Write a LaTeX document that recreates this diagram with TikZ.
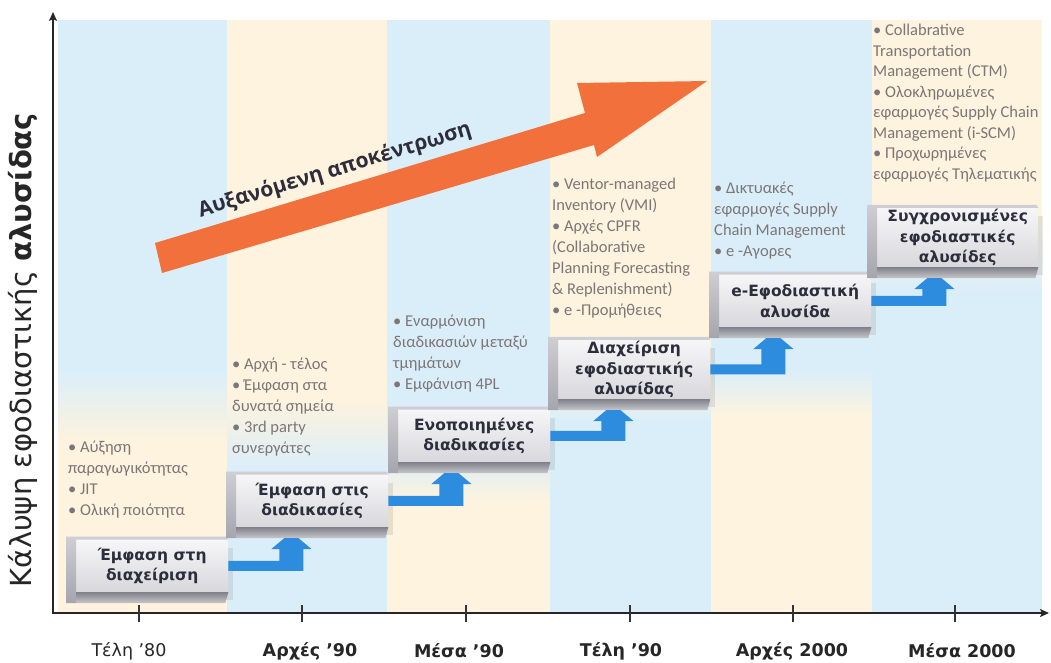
\documentclass[tikz,border=0pt]{standalone}
\usepackage{fontspec}
\setmainfont{DejaVu Sans}
\newfontfamily\notefont{Carlito}
\newfontfamily\trendfont{Open Sans}
\usetikzlibrary{calc,shadows,arrows.meta}
\definecolor{skyband}{RGB}{218,238,250}
\definecolor{sandband}{RGB}{253,243,222}
\definecolor{trend}{RGB}{242,112,60}
\definecolor{stepblue}{RGB}{45,140,222}
\definecolor{notegray}{RGB}{125,118,118}
\definecolor{boxtext}{RGB}{45,45,60}
\definecolor{boxfront}{RGB}{226,226,231}
\definecolor{boxtopface}{RGB}{206,206,212}
\definecolor{boxside}{RGB}{165,165,174}
\definecolor{boxbase}{RGB}{128,128,138}
\tikzset{>={Stealth[length=9pt,width=8pt,inset=2pt]}}
\tikzset{
  stepbox/.style = {rectangle, anchor=south west, minimum width=152pt, minimum height=52pt,
    inner sep=1pt, align=center, top color=white!70!boxfront, bottom color=boxfront!90!gray,
    text=boxtext, font=\fontsize{15.5}{20.5}\bfseries\selectfont,
    drop shadow={shadow xshift=5pt, shadow yshift=-8pt, opacity=0.18}},
  note/.style = {anchor=north west, inner sep=0pt, align=left, text=notegray,
    font=\notefont\fontsize{16.5}{21}\selectfont},
  era/.style = {text=black!85, font=\fontsize{17.5}{20}\selectfont},
  boldera/.style = {text=black!85, font=\fontsize{17.5}{20}\bfseries\selectfont},
  axisline/.style = {line width=2.2pt, black!85},
  tickmark/.style = {line width=1.3pt, black!80},
  trendtext/.style = {text=boxtext, font=\trendfont\fontsize{21}{24}\bfseries\selectfont}
}
\newcommand\boxfaces[1]{%
  \fill[boxtopface] (#1.north west) -- (#1.north east) -- ++(-2,-3) -- ([shift={(-10,-3)}]#1.north west) -- cycle;
  \shade[top color=boxside!55!white, bottom color=boxside] (#1.north west) -- ([shift={(-10,-3)}]#1.north west)
    -- ([shift={(-10,11)}]#1.south west) -- ([shift={(0,11)}]#1.south west) -- cycle;
  \shade[top color=boxbase, bottom color=boxbase!45!white] (#1.south west) -- (#1.south east)
    -- ([shift={(-3,11)}]#1.south east) -- ([shift={(0,11)}]#1.south west) -- cycle;
}
\newcommand\stepup[2]{%
  \fill[stepblue] let \p1=(#1.east), \p2=(#2.south) in
    (\x1,\y1-5pt) -- (\x1+75pt,\y1-5pt) -- (\x1+75pt,\y2-22pt) -- (\x1+83pt,\y2-22pt)
    -- (\x1+70pt,\y2-11pt) -- (\x1+56pt,\y2-11pt) -- (\x1+43pt,\y2-22pt) -- (\x1+51pt,\y2-22pt)
    -- (\x1+51pt,\y1+5pt) -- (\x1,\y1+5pt) -- cycle;
}

\begin{document}
\begin{tikzpicture}[x=1pt,y=-1pt]
  \useasboundingbox (0,0) rectangle (1051,662);
  \fill[white] (0,0) rectangle (1051,662);
  \foreach \xa/\xb/\topc/\botc/\ya/\yb in {58/227/skyband/sandband/370/440, 227/387/sandband/skyband/400/470,
      387/550/skyband/sandband/455/500, 550/711/sandband/skyband/380/420,
      711/872/skyband/sandband/370/415, 872/1041/sandband/skyband/215/290}{
    \fill[\topc] (\xa,20) rectangle (\xb+0.5,\ya);
    \shade[top color=\topc, bottom color=\botc] (\xa,\ya-0.5) rectangle (\xb+0.5,\yb+0.5);
    \fill[\botc] (\xa,\yb) rectangle (\xb+0.5,612);
  }

  \coordinate (tailtop) at (155,243);
  \coordinate (tailbot) at (162,273);
  \coordinate (headjoin) at (585,113);
  \fill[trend] (tailtop) -- (headjoin) -- (577,83) -- (707,81) -- (597,157) -- (594,145) -- (tailbot) -- cycle;
  \path (tailtop) -- (headjoin) node[pos=0.43, sloped, above=3pt, trendtext] (trendlabel) {Αυξανόμενη αποκέντρωση};

  \node[note] (n1) at (68,441) {• Αύξηση\\παραγωγικότητας\\• JIT\\• Ολική ποιότητα};
  \node[note] (n2) at (232,358) {• Αρχή - τέλος\\• Έμφαση στα\\δυνατά σημεία\\• 3rd party\\συνεργάτες};
  \node[note] (n3) at (393,315) {• Εναρμόνιση\\διαδικασιών μεταξύ\\τμημάτων\\• Εμφάνιση 4PL};
  \node[note] (n4) at (552,178) {• Ventor-managed\\Inventory (VMI)\\• Αρχές CPFR\\(Collaborative\\Planning Forecasting\\\& Replenishment)\\• e -Προμήθειες};
  \node[note] (n5) at (714,182) {• Δικτυακές\\εφαρμογές Supply\\Chain Management\\• e -Αγορες};
  \node[note, font=\notefont\fontsize{16.5}{20.5}\selectfont] (n6) at (873,24) {• Collabrative\\Transportation\\Management (CTM)\\• Ολοκληρωμένες\\εφαρμογές Supply Chain\\Management (i-SCM)\\• Προχωρημένες\\εφαρμογές Τηλεματικής};

  \node[stepbox] (b1) at (76,592) {Έμφαση στη\\διαχείριση};
  \node[stepbox] (b2) at (236,527) {Έμφαση στις\\διαδικασίες};
  \node[stepbox] (b3) at (398,462) {Ενοποιημένες\\διαδικασίες};
  \node[stepbox] (b4) at (558,399) {Διαχείριση\\εφοδιαστικής\\αλυσίδας};
  \node[stepbox] (b5) at (719,327) {e-Εφοδιαστική\\αλυσίδα};
  \node[stepbox, minimum width=161pt] (b6) at (877,267) {Συγχρονισμένες\\εφοδιαστικές\\αλυσίδες};
  \foreach \i in {1,...,6} {\boxfaces{b\i}}
  \foreach \a/\b in {b1/b2, b2/b3, b3/b4, b4/b5, b5/b6} {\stepup{\a}{\b}}

  \draw[axisline,->] (53,614) -- (53,12);
  \draw[axisline,->] (52,613) -- (1049,613);
  \foreach \x in {139,302,466,630,793,955} \draw[tickmark] (\x,605) -- (\x,622);

  \node[era] (e1) at (129,651) {Τέλη '80};
  \node[boldera] (e2) at (310,651) {Αρχές '90};
  \node[boldera] (e3) at (459,651) {Μέσα '90};
  \node[boldera] (e4) at (621,651) {Τέλη '90};
  \node[boldera] (e5) at (792,651) {Αρχές 2000};
  \node[boldera] (e6) at (962,651) {Μέσα 2000};

  \node[rotate=90, text=black!85, font=\fontsize{29}{32}\selectfont] (ylabel) at (23,350) {Κάλυψη εφοδιαστικής \textbf{αλυσίδας}};
\end{tikzpicture}
\end{document}
